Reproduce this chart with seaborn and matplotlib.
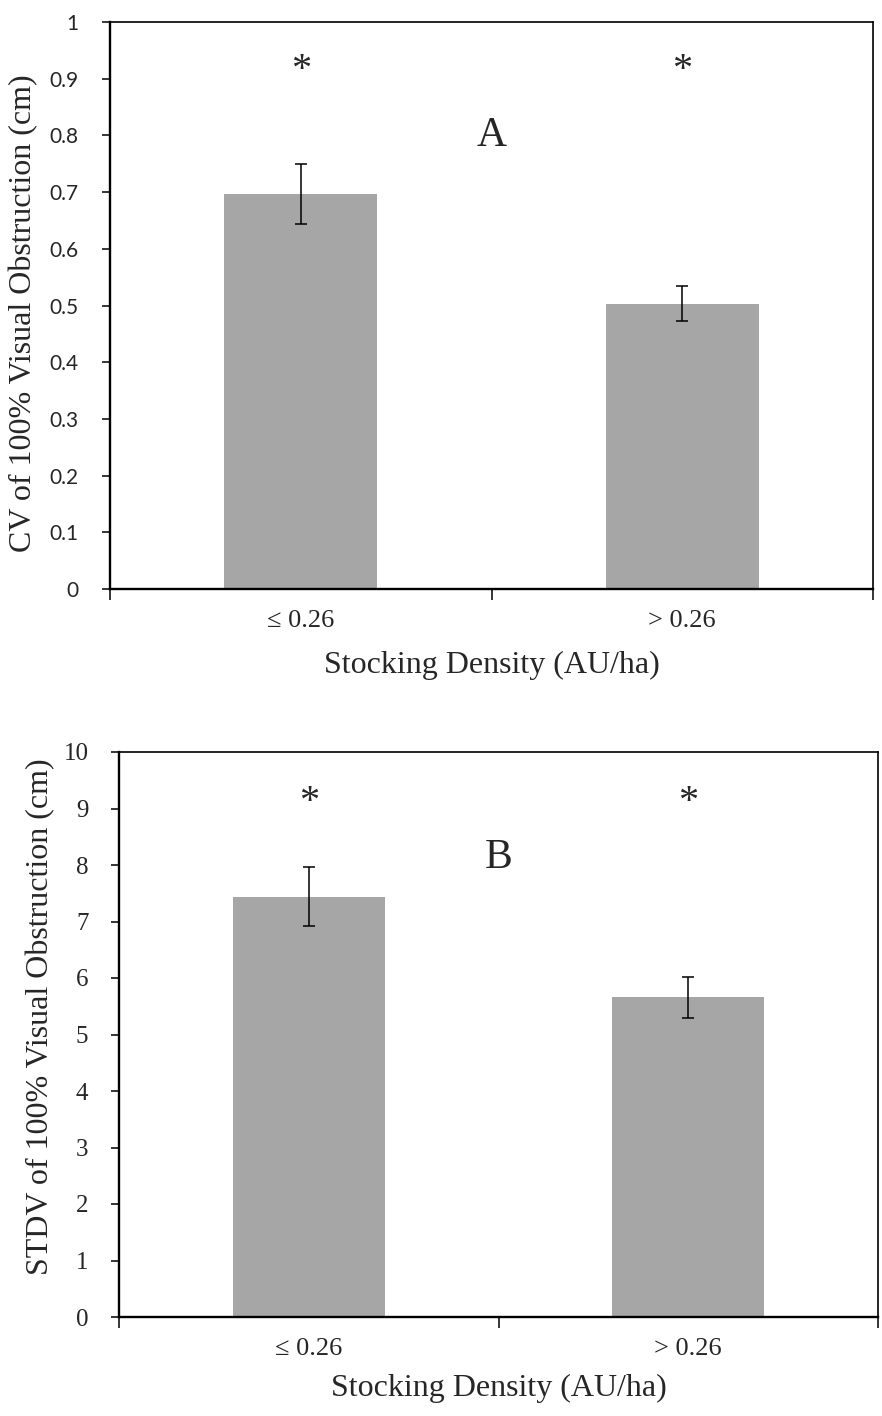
import matplotlib
matplotlib.use("Agg")
import matplotlib.pyplot as plt
import seaborn as sns
import pandas as pd
import numpy as np

# ---------------- data ----------------
categories = ["\u2264 0.26", "> 0.26"]
cv_means = [0.697, 0.503]
cv_errors = [0.053, 0.031]
stdv_means = [7.44, 5.655]
stdv_errors = [0.525, 0.355]
cv_ticks = [0, 0.1, 0.2, 0.3, 0.4, 0.5, 0.6, 0.7, 0.8, 0.9, 1.0]
cv_tick_labels = ["0", "0.1", "0.2", "0.3", "0.4", "0.5", "0.6", "0.7", "0.8", "0.9", "1"]
stdv_ticks = [0, 1, 2, 3, 4, 5, 6, 7, 8, 9, 10]
stdv_tick_labels = ["0", "1", "2", "3", "4", "5", "6", "7", "8", "9", "10"]
panel_labels = ["A", "B"]
sig_marks = ["*", "*"]
x_title = "Stocking Density (AU/ha)"
y_titles = ["CV of 100% Visual Obstruction (cm)", "STDV of 100% Visual Obstruction (cm)"]

sns.set_theme(style="white")
plt.rcParams["font.family"] = ["Liberation Serif", "DejaVu Serif"]

SERIF = ["Liberation Serif", "DejaVu Serif"]
SANS = ["Lato", "DejaVu Sans"]
BAR_COLOR = "#A6A6A6"

fig = plt.figure(figsize=(8.82, 14.16), dpi=100)
W, H = 882, 1416


def add_axes(left, right, top, bottom):
    return fig.add_axes([left / W, 1 - bottom / H, (right - left) / W, (bottom - top) / H])


ax1 = add_axes(110, 873, 22, 589)
ax2 = add_axes(119, 878, 752, 1317)


def draw_panel(ax, means, errs, ticks, tick_labels, ytitle, letter, letter_y, sig_y,
               ytick_font, ytick_size, ytick_pad, ylab_xy, xlab_xy):
    df = pd.DataFrame({"Stocking": categories, "Value": means})
    sns.barplot(data=df, x="Stocking", y="Value", color=BAR_COLOR, saturation=1,
                width=0.4, errorbar=None, ax=ax)
    for p in ax.patches:
        p.set_edgecolor("none")
    xpos = np.arange(len(categories))
    ax.errorbar(xpos, means, yerr=errs, fmt="none", ecolor="black",
                elinewidth=1.1, capsize=4.3, capthick=1.1, zorder=5)
    ax.set_xlim(-0.5, len(categories) - 0.5)
    ax.set_ylim(ticks[0], ticks[-1])
    ax.set_yticks(ticks, labels=tick_labels)
    # category boundary ticks
    ax.set_xticks(np.arange(-0.5, len(categories), 1.0), minor=True)
    ax.tick_params(axis="x", which="minor", direction="out", length=8, width=1.1,
                   color="black", bottom=True)
    ax.tick_params(axis="x", which="major", length=0, pad=15)
    ax.tick_params(axis="y", which="major", direction="out", length=6, width=1.1,
                   color="black", left=True, pad=ytick_pad)
    for lab in ax.get_xticklabels():
        lab.set_fontfamily(SERIF)
        lab.set_fontsize(19)
    for lab in ax.get_yticklabels():
        lab.set_fontfamily(ytick_font)
        lab.set_fontsize(ytick_size)
    for side in ["left", "bottom"]:
        ax.spines[side].set_linewidth(1.7)
        ax.spines[side].set_color("black")
    for side in ["top", "right"]:
        ax.spines[side].set_linewidth(1.2)
        ax.spines[side].set_color("black")
    ax.set_xlabel(x_title, fontsize=23, family=SERIF, va="center")
    ax.set_ylabel(ytitle, fontsize=23, family=SERIF, va="center")
    ax.xaxis.set_label_coords(*xlab_xy)
    ax.yaxis.set_label_coords(*ylab_xy)
    for i, s in enumerate(sig_marks):
        ax.text(i, sig_y, s, ha="center", va="center", fontsize=29, family=SERIF)
    ax.text(0.5, letter_y, letter, ha="center", va="center", fontsize=30, family=SERIF)


draw_panel(ax1, cv_means, cv_errors, cv_ticks, cv_tick_labels, y_titles[0], panel_labels[0],
           0.80, 0.915, SANS, 15, 17, (-0.113, 0.487), (0.5, -0.134))
draw_panel(ax2, stdv_means, stdv_errors, stdv_ticks, stdv_tick_labels, y_titles[1], panel_labels[1],
           8.12, 9.1, SERIF, 18, 16, (-0.103, 0.531), (0.5, -0.126))

fig.savefig("out.png", dpi=100, facecolor="white")
